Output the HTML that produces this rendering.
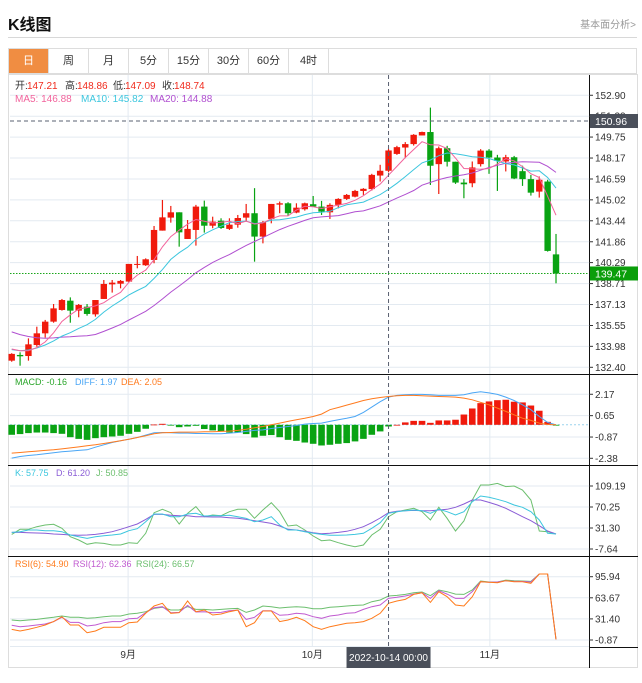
<!DOCTYPE html>
<html><head><meta charset="utf-8">
<style>
body{margin:0;background:#fff;width:642px;height:683px;overflow:hidden;font-family:"Liberation Sans","Noto Sans CJK SC",sans-serif;}
#root{position:relative;width:642px;height:683px;}
.title{position:absolute;left:8px;top:11px;font-size:16px;font-weight:bold;color:#111;}
.more{position:absolute;right:6px;top:16px;font-size:10px;color:#999;}
.hr{position:absolute;left:8px;top:37px;width:629px;height:1px;background:#d8d8d8;}
.tabs{position:absolute;left:8px;top:48px;width:629px;height:26px;border:1px solid #ddd;box-sizing:border-box;display:flex;}
.tab{width:40px;height:100%;border-right:1px solid #ddd;box-sizing:border-box;font-size:11px;color:#333;text-align:center;line-height:25px;}
.tab.on{background:#f08d42;color:#fff;}
svg{position:absolute;left:0;top:0;}
</style></head><body>
<div id="root">
<div class="title">K线图</div>
<div class="more">基本面分析&gt;</div>
<div class="hr"></div>
<div class="tabs">
<div class="tab on">日</div>
<div class="tab">周</div>
<div class="tab">月</div>
<div class="tab">5分</div>
<div class="tab">15分</div>
<div class="tab">30分</div>
<div class="tab">60分</div>
<div class="tab">4时</div>
</div>
<svg id="chart" width="642" height="683"></svg>
</div>
<script>
const opens=[132.90,133.33,133.25,134.08,134.96,135.84,136.72,137.42,136.67,136.97,136.39,137.55,138.65,138.70,138.86,140.14,140.09,140.49,142.70,143.68,144.08,142.07,142.75,144.51,143.07,143.45,142.83,143.15,143.68,144.01,142.25,143.58,144.66,144.76,144.06,144.31,144.69,144.51,144.08,144.64,145.09,145.26,145.69,145.83,146.85,147.21,148.48,148.96,149.22,149.87,150.13,147.71,148.91,147.89,146.32,146.27,147.71,148.73,148.21,147.91,148.23,147.18,146.58,145.64,146.40,140.91];
const highs=[133.46,133.53,134.58,135.46,135.97,137.17,137.55,137.67,137.17,137.17,137.47,138.98,138.98,138.98,140.19,140.79,140.61,143.05,145.01,144.56,144.08,143.50,144.64,144.96,143.75,143.63,143.63,143.88,144.71,145.90,143.43,144.71,144.89,144.84,144.76,144.81,145.31,144.94,144.76,145.14,145.46,145.77,145.90,146.98,147.66,148.86,149.09,149.37,149.97,150.16,151.97,149.04,149.09,147.89,146.58,147.91,148.84,148.84,148.41,148.41,148.33,147.59,146.90,146.78,146.53,142.45];
const lows=[132.82,132.52,132.90,133.95,134.63,135.76,136.67,135.76,136.17,136.29,136.22,137.55,138.03,138.35,138.80,139.86,140.04,140.24,142.70,143.30,141.49,142.07,141.57,142.55,142.88,142.83,142.75,142.92,143.38,140.36,141.74,143.25,144.01,143.83,144.01,144.21,144.51,143.88,143.58,144.38,145.01,145.21,145.39,145.72,146.40,147.09,148.41,148.16,149.11,149.87,146.14,145.46,147.53,146.22,145.14,145.97,147.53,146.98,145.69,147.16,146.58,146.07,145.34,145.19,141.12,138.73];
const closes=[133.41,133.23,134.13,134.96,135.84,136.84,137.47,136.67,137.10,136.42,137.47,138.68,138.78,138.91,140.19,140.19,140.54,142.75,143.70,144.08,142.57,142.83,144.51,143.07,143.38,142.90,143.15,143.65,144.01,142.25,143.33,144.71,144.76,144.01,144.43,144.76,144.51,144.13,144.64,145.09,145.39,145.69,145.85,146.90,147.21,148.74,148.99,149.22,149.92,150.13,147.59,148.91,147.89,146.32,146.19,147.46,148.73,148.21,147.96,148.23,146.63,146.58,145.56,146.53,141.17,139.47];
const historyCloses=[137.2,137.0,136.8,136.6,136.4,136.3,136.2,136.0,135.8,135.7,134.0,133.6,133.5,133.6,133.7,133.9,134.1,133.8,133.7];
const priceTicks=[152.90,151.32,149.75,148.17,146.59,145.02,143.44,141.86,140.29,138.71,137.13,135.55,133.98,132.40];
const macdHist=[-0.71,-0.66,-0.59,-0.55,-0.55,-0.59,-0.64,-0.88,-1.0,-1.07,-0.95,-0.88,-0.83,-0.78,-0.64,-0.50,-0.28,0.02,0.07,-0.01,-0.17,-0.12,-0.07,-0.30,-0.40,-0.47,-0.55,-0.55,-0.66,-0.90,-0.78,-0.73,-0.88,-1.07,-1.14,-1.26,-1.35,-1.47,-1.42,-1.35,-1.30,-1.18,-1.00,-0.71,-0.47,-0.12,0.00,0.17,0.28,0.28,0.14,0.31,0.31,0.36,0.73,1.16,1.54,1.66,1.75,1.78,1.64,1.59,1.37,1.00,0.21,-0.05];
const diffVals=[-2.37,-2.25,-2.18,-2.13,-2.06,-1.99,-1.92,-1.87,-1.82,-1.78,-1.59,-1.42,-1.26,-1.14,-1.02,-0.90,-0.73,-0.57,-0.55,-0.57,-0.59,-0.59,-0.62,-0.62,-0.64,-0.64,-0.59,-0.55,-0.47,-0.40,-0.36,-0.26,-0.19,-0.12,-0.05,0.05,0.09,0.12,0.24,0.36,0.47,0.59,0.88,1.26,1.64,1.97,2.09,2.13,2.16,2.16,2.13,2.09,2.09,2.09,2.13,2.27,2.35,2.27,2.16,1.97,1.73,1.42,1.07,0.59,0.17,0.00];
const deaVals=[-2.01,-1.97,-1.92,-1.87,-1.82,-1.78,-1.71,-1.64,-1.57,-1.49,-1.42,-1.33,-1.23,-1.14,-1.02,-0.90,-0.78,-0.64,-0.57,-0.55,-0.52,-0.52,-0.52,-0.50,-0.50,-0.47,-0.45,-0.40,-0.31,-0.21,-0.12,0.00,0.12,0.24,0.36,0.47,0.59,0.76,1.07,1.23,1.40,1.56,1.73,1.85,1.94,2.01,2.06,2.09,2.09,2.06,2.04,2.01,1.99,1.97,1.90,1.78,1.59,1.42,1.19,0.95,0.71,0.47,0.31,0.12,0.02,0.00];
const macdTicks=[2.17,0.65,-0.87,-2.38];
const kVals=[23.2,24.5,27.6,27.6,26.3,26.3,24.5,18.3,15.2,12.1,15.2,17.0,18.3,20.1,26.3,30.0,43.0,57.2,57.2,52.3,52.3,57.2,58.5,53.5,54.2,54.2,54.8,52.3,49.2,43.0,46.1,52.3,36.8,27.6,27.6,24.5,21.4,19.5,17.7,17.7,18.3,19.5,21.4,30.7,41.2,58.5,61.6,63.4,64.7,63.4,58.5,65.9,61.6,55.4,61.6,80.1,90.6,88.2,84.5,80.1,73.9,69.6,61.6,46.1,21.4,20.1];
const dVals=[23.2,23.2,22.6,22.0,21.4,20.1,19.5,18.3,17.7,18.3,19.5,21.4,24.5,28.8,33.8,38.7,47.3,56.6,56.6,55.0,54.2,54.2,52.3,52.3,51.7,51.7,50.4,49.2,47.3,44.9,42.4,39.9,35.0,28.8,27.6,25.1,22.6,20.8,21.4,23.2,25.1,28.8,33.8,41.2,49.8,59.7,62.2,63.4,64.0,63.4,63.4,64.7,65.9,69.6,75.8,83.2,83.2,78.8,73.9,67.8,60.3,52.3,44.9,35.6,25.7,20.1];
const jVals=[19.5,28.8,28.8,33.8,36.8,38.1,30.7,15.2,9.0,1.0,4.1,2.8,-0.3,-0.3,4.1,2.8,21.4,59.7,65.9,59.7,38.7,58.5,70.9,52.3,55.4,54.2,61.6,65.9,65.9,49.2,64.7,78.3,61.6,35.0,36.8,27.6,16.4,7.8,9.0,4.1,-0.3,-3.4,-0.3,18.3,28.8,52.3,61.6,64.7,67.8,61.6,46.1,69.6,49.2,25.7,44.3,83.2,111.0,111.0,114.1,108.0,109.2,101.8,83.2,25.7,24.5,20.1];
const kdjTicks=[109.19,70.25,31.30,-7.64];
const rsi6=[15.4,12.9,15.4,18.5,22.1,27.2,34.8,22.1,22.1,10.3,12.9,18.5,18.5,18.5,25.6,26.6,39.9,51.1,55.2,39.9,40.9,58.8,42.4,45.0,37.4,38.9,42.4,45.0,19.5,25.6,43.5,43.5,27.2,29.7,33.8,28.7,19.5,15.4,19.5,22.1,24.6,25.6,27.2,32.3,39.9,55.2,58.8,61.3,68.9,71.5,56.7,73.0,65.4,52.6,51.1,65.4,88.3,87.3,86.8,89.8,88.3,88.3,85.8,100.0,100.0,0.1];
const rsi12=[21.6,19.5,20.5,22.1,23.6,27.2,33.8,26.1,26.1,20.5,22.1,25.6,27.2,27.2,31.7,32.3,40.9,48.6,50.1,40.9,41.4,52.1,41.9,42.4,40.9,41.4,44.0,45.0,30.7,33.8,44.0,44.0,36.9,37.9,39.9,38.9,34.8,32.3,35.8,37.4,39.9,40.9,46.0,50.1,52.6,62.8,64.4,66.4,69.4,71.5,62.8,74.5,69.4,62.8,62.8,73.0,88.3,87.3,87.8,89.8,88.8,88.8,87.8,100.0,100.0,0.1];
const rsi24=[29.7,28.7,29.7,30.7,32.3,33.8,35.8,33.8,33.8,32.3,33.3,34.8,35.8,35.8,38.9,39.9,42.4,47.5,49.1,45.0,45.0,50.1,46.0,46.0,45.0,46.0,47.0,47.5,41.4,45.0,51.1,50.1,48.0,49.1,50.1,49.1,47.0,47.0,49.1,50.1,51.1,52.1,52.6,57.7,60.3,66.4,67.4,68.9,71.5,72.5,66.9,75.6,73.0,69.4,68.9,75.6,89.3,87.8,87.8,90.8,89.8,89.3,88.8,100.0,100.0,0.1];
const rsiTicks=[95.94,63.67,31.40,-0.87];
const monthLabels=["9月","10月","11月"];
const monthIndex=[13.9,35.9,57.1];
const crossIndex=45;
const crossPrice=150.96;
const lastPrice=139.47;
const crossDate="2022-10-14 00:00";

const NS="http://www.w3.org/2000/svg";
const svg=document.getElementById('chart');
function el(tag,attrs,parent){const e=document.createElementNS(NS,tag);for(const k in attrs)e.setAttribute(k,attrs[k]);(parent||svg).appendChild(e);return e;}
const L=10,R=589,RED='#f01a0c',GREEN='#09a313';
const xOf=i=>11.7+i*8.374;
const yP=v=>367.3-(v-132.40)*13.27;
const yM=v=>424.8-v*14.07;
const yK=v=>486-(v-109.19)*0.5392;
const yR=v=>576.7-(v-95.94)*0.6539;

function hgrid(y,name){const g=el('line',{x1:L,x2:R,y1:y,y2:y,stroke:'#e3eaf1','stroke-width':1});}
priceTicks.forEach(t=>hgrid(yP(t),'price-gridline'));
macdTicks.forEach(t=>hgrid(yM(t),'macd-gridline'));
kdjTicks.forEach(t=>hgrid(yK(t),'kdj-gridline'));
rsiTicks.forEach(t=>hgrid(yR(t),'rsi-gridline'));
hgrid(646.5,'x-axis-gridline');
monthIndex.forEach(m=>{const g=el('line',{x1:xOf(m),x2:xOf(m),y1:75,y2:647,stroke:'#e3eaf1'});});

const fr=el('rect',{x:8.5,y:74.5,width:629,height:593,fill:'none',stroke:'#ddd'});

[374,465,556].forEach(y=>{const s=el('line',{x1:8,x2:638,y1:y+0.5,y2:y+0.5,stroke:'#111'});});
const xb=el('line',{x1:R,x2:638,y1:647.5,y2:647.5,stroke:'#111'});
const ya=el('line',{x1:R+0.5,x2:R+0.5,y1:75,y2:668,stroke:'#111'});

function ticks(arr,fn,name){arr.forEach(t=>{const y=fn(t);el('line',{x1:R,x2:R+4,y1:y,y2:y,stroke:'#333'});const tx=el('text',{x:R+6,y:y+3.5,'font-size':10,fill:'#333'});tx.textContent=t.toFixed(2);});}
ticks(priceTicks,yP,'price-tick-label');ticks(macdTicks,yM,'macd-tick-label');ticks(kdjTicks,yK,'kdj-tick-label');ticks(rsiTicks,yR,'rsi-tick-label');

const all=historyCloses.concat(closes);
function ma(n){return closes.map((c,i)=>{let s=0;for(let k=0;k<n;k++)s+=all[historyCloses.length+i-k];return s/n;});}
function poly(vals,fn,color,name,w){const p=el('polyline',{points:vals.map((v,i)=>xOf(i).toFixed(1)+','+fn(v).toFixed(1)).join(' '),fill:'none',stroke:color,'stroke-width':w||1});return p;}

closes.forEach((c,i)=>{const o=opens[i],up=c>=o,col=up?RED:GREEN,x=xOf(i);
const g=el('g',{});
el('line',{x1:x,x2:x,y1:yP(highs[i]),y2:yP(lows[i]),stroke:col,'stroke-width':1.2},g);
const t=Math.min(yP(o),yP(c)),h=Math.max(1,Math.abs(yP(o)-yP(c)));
el('rect',{x:x-3.2,y:t,width:6.4,height:h,fill:col},g);});
poly(ma(20),yP,'#b04fd0','ma20-line');
poly(ma(10),yP,'#3cc6de','ma10-line');
poly(ma(5),yP,'#f2639c','ma5-line');

const z=el('line',{x1:L,x2:R,y1:yM(0),y2:yM(0),stroke:'#9cd3ee','stroke-dasharray':'2,2'});
macdHist.forEach((v,i)=>{const b=el('rect',{x:xOf(i)-3.3,y:Math.min(yM(0),yM(v)),width:6.6,height:Math.max(0.8,Math.abs(yM(v)-yM(0))),fill:v>=0?RED:GREEN});});
poly(diffVals,yM,'#4aa6f5','diff-line');
poly(deaVals,yM,'#ff7a1e','dea-line');
poly(jVals,yK,'#6cbf6e','j-line');
poly(dVals,yK,'#8a5cd6','d-line');
poly(kVals,yK,'#3cc6de','k-line');
poly(rsi24,yR,'#6cbf6e','rsi24-line');
poly(rsi12,yR,'#c05ad0','rsi12-line');
poly(rsi6,yR,'#ff7a1a','rsi6-line');

const cx=xOf(crossIndex);
const cv=el('line',{x1:cx,x2:cx,y1:75,y2:647,stroke:'#5a6070','stroke-dasharray':'4,3'});
const ch=el('line',{x1:L,x2:R,y1:yP(crossPrice),y2:yP(crossPrice),stroke:'#5a6070','stroke-dasharray':'4,3'});
const cb=el('rect',{x:R+1,y:yP(crossPrice)-7,width:48,height:14,fill:'#4a4f5a'});
const ct=el('text',{x:R+6,y:yP(crossPrice)+4,'font-size':10.5,fill:'#fff'});ct.textContent=crossPrice.toFixed(2);
const lp=el('line',{x1:L,x2:R,y1:yP(lastPrice),y2:yP(lastPrice),stroke:'#1aa61a','stroke-dasharray':'1.5,1.5'});
const lb=el('rect',{x:R+1,y:yP(lastPrice)-7,width:48,height:14,fill:'#0a9e0a'});
const lt=el('text',{x:R+6,y:yP(lastPrice)+4,'font-size':10.5,fill:'#fff'});lt.textContent=lastPrice.toFixed(2);

monthLabels.forEach((m,k)=>{const t=el('text',{x:xOf(monthIndex[k]),y:658,'font-size':10,fill:'#333','text-anchor':'middle','font-family':'Liberation Sans, Noto Sans CJK SC, sans-serif'});t.textContent=m;});
const db=el('rect',{x:cx-42,y:647,width:84,height:21,fill:'#4a4f5a'});
const dt=el('text',{x:cx,y:661,'font-size':10,fill:'#fff','text-anchor':'middle'});dt.textContent=crossDate;

function legend(y,fs,items,name){const g=el('g',{});
items.forEach(([x,s,c])=>{const t=el('text',{x:x,y:y,'font-size':fs,fill:c,'font-family':'Liberation Sans, Noto Sans CJK SC, sans-serif'},g);t.textContent=s;});}
legend(89,10,[[15,'开:','#333'],[27,'147.21','#f02a1c'],[65,'高:','#333'],[77,'148.86','#f02a1c'],[113,'低:','#333'],[125,'147.09','#f02a1c'],[162,'收:','#333'],[174,'148.74','#f02a1c']],'ohlc-legend');
legend(102,10,[[15,'MA5: 146.88','#f2639c'],[81,'MA10: 145.82','#3cc6de'],[150,'MA20: 144.88','#b04fd0']],'ma-legend');
legend(385,9,[[15,'MACD: -0.16','#2aa52a'],[75,'DIFF: 1.97','#4aa6f5'],[121,'DEA: 2.05','#ff7a1e']],'macd-legend');
legend(476,9,[[15,'K: 57.75','#3cc6de'],[56,'D: 61.20','#8a5cd6'],[96,'J: 50.85','#6cbf6e']],'kdj-legend');
legend(567,9,[[15,'RSI(6): 54.90','#ff7a1a'],[73,'RSI(12): 62.36','#c05ad0'],[136,'RSI(24): 66.57','#6cbf6e']],'rsi-legend');
</script>
</body></html>
